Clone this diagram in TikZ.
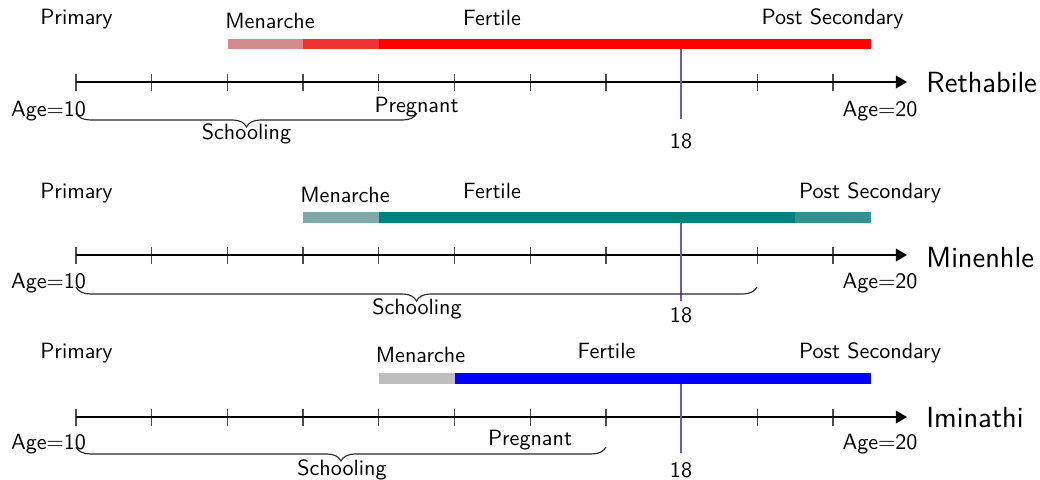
\documentclass[tikz,border=0pt]{standalone}
\usetikzlibrary{decorations.pathreplacing,arrows.meta}
\definecolor{rA}{RGB}{210,140,140}
\definecolor{rB}{RGB}{240,50,50}
\definecolor{tA}{RGB}{128,170,170}
\definecolor{tB}{RGB}{0,128,128}
\definecolor{tC}{RGB}{50,146,146}
\definecolor{gA}{RGB}{190,190,190}
\definecolor{lineP}{RGB}{118,88,176}
\begin{document}
\begin{tikzpicture}[x=0.4525pt,y=-0.4525pt,font=\sffamily,
  lbl/.style={inner sep=0pt,anchor=base},
  who/.style={inner sep=0pt,anchor=base west,font=\sffamily\fontsize{13.2}{16}\selectfont},
  axisline/.style={line width=1pt,-{Triangle[length=5pt,width=5.6pt]}},
  tickmark/.style={line width=0.6pt,black!70},
  markline/.style={line width=0.9pt,lineP},
  schoolbrace/.style={decorate,decoration={brace,mirror,amplitude=6.3pt},line width=0.5pt,black!85}]
\useasboundingbox (0,0) rectangle (1040,479);

% ---------- Rethabile ----------
\begin{scope}[shift={(0,82)}]
  \node[lbl] (p1prim) at (76.5,-58) {Primary};
  \node[lbl] (p1men)  at (270,-54) {Menarche};
  \node[lbl] (p1fert) at (492,-57) {Fertile};
  \node[lbl] (p1post) at (832.5,-58) {Post Secondary};
  \fill[rA] (228,-43) rectangle (303,-33);
  \fill[rB] (303,-43) rectangle (379,-33);
  \fill[red] (379,-43) rectangle (871,-33);
  \foreach \k in {0,...,10} \draw[tickmark] ({76+\k*75.7},-8.5) -- ++(0,17);
  \coordinate (p1a) at (76,0);
  \coordinate (p1b) at (907,0);
  \draw[axisline] (p1a) -- (p1b);
  \node[who] (p1name) at (926,10) {Rethabile};
  \coordinate (p1m0) at (681,-33);
  \coordinate (p1m1) at (681,37);
  \draw[markline] (p1m0) -- (p1m1);
  \node[lbl] (p1eight) at (681,66) {18};
  \node[lbl] (p1age10) at (48.5,34) {Age$=$10};
  \node[lbl] (p1age20) at (880,34) {Age$=$20};
  \node[lbl] (p1preg) at (416.5,30) {Pregnant};
  \coordinate (p1s0) at (76,31);
  \coordinate (p1s1) at (417,31);
  \draw[schoolbrace] (p1s0) -- (p1s1);
  \node[lbl] (p1school) at (246.5,57) {Schooling};
\end{scope}

% ---------- Minenhle ----------
\begin{scope}[shift={(0,255)}]
  \node[lbl] (p2prim) at (76.5,-57) {Primary};
  \node[lbl] (p2men)  at (345,-53) {Menarche};
  \node[lbl] (p2fert) at (492,-57) {Fertile};
  \node[lbl] (p2post) at (870,-57) {Post Secondary};
  \fill[tA] (303,-43) rectangle (379,-32);
  \fill[tB] (379,-43) rectangle (795,-32);
  \fill[tC] (795,-43) rectangle (871,-32);
  \foreach \k in {0,...,10} \draw[tickmark] ({76+\k*75.7},-8.5) -- ++(0,17);
  \coordinate (p2a) at (76,0);
  \coordinate (p2b) at (907,0);
  \draw[axisline] (p2a) -- (p2b);
  \node[who] (p2name) at (926,12) {Minenhle};
  \coordinate (p2m0) at (681,-32);
  \coordinate (p2m1) at (681,46);
  \draw[markline] (p2m0) -- (p2m1);
  \node[lbl] (p2eight) at (681,67) {18};
  \node[lbl] (p2age10) at (48.5,33) {Age$=$10};
  \node[lbl] (p2age20) at (880,33) {Age$=$20};
  \coordinate (p2s0) at (76,32);
  \coordinate (p2s1) at (757,32);
  \draw[schoolbrace] (p2s0) -- (p2s1);
  \node[lbl] (p2school) at (417,59) {Schooling};
\end{scope}

% ---------- Iminathi ----------
\begin{scope}[shift={(0,417)}]
  \node[lbl] (p3prim) at (76.5,-59) {Primary};
  \node[lbl] (p3men)  at (420.5,-55) {Menarche};
  \node[lbl] (p3fert) at (606.5,-59) {Fertile};
  \node[lbl] (p3post) at (870,-59) {Post Secondary};
  \fill[gA] (379,-44) rectangle (455,-33);
  \fill[blue] (455,-44) rectangle (871,-33);
  \foreach \k in {0,...,10} \draw[tickmark] ({76+\k*75.7},-8.5) -- ++(0,17);
  \coordinate (p3a) at (76,0);
  \coordinate (p3b) at (907,0);
  \draw[axisline] (p3a) -- (p3b);
  \node[who] (p3name) at (926,10) {Iminathi};
  \coordinate (p3m0) at (681,-33);
  \coordinate (p3m1) at (681,36);
  \draw[markline] (p3m0) -- (p3m1);
  \node[lbl] (p3eight) at (681,60) {18};
  \node[lbl] (p3age10) at (48.5,32) {Age$=$10};
  \node[lbl] (p3age20) at (880,32) {Age$=$20};
  \node[lbl] (p3preg) at (530,28) {Pregnant};
  \coordinate (p3s0) at (76,30);
  \coordinate (p3s1) at (606,30);
  \draw[schoolbrace] (p3s0) -- (p3s1);
  \node[lbl] (p3school) at (342,58) {Schooling};
\end{scope}
\end{tikzpicture}
\end{document}
